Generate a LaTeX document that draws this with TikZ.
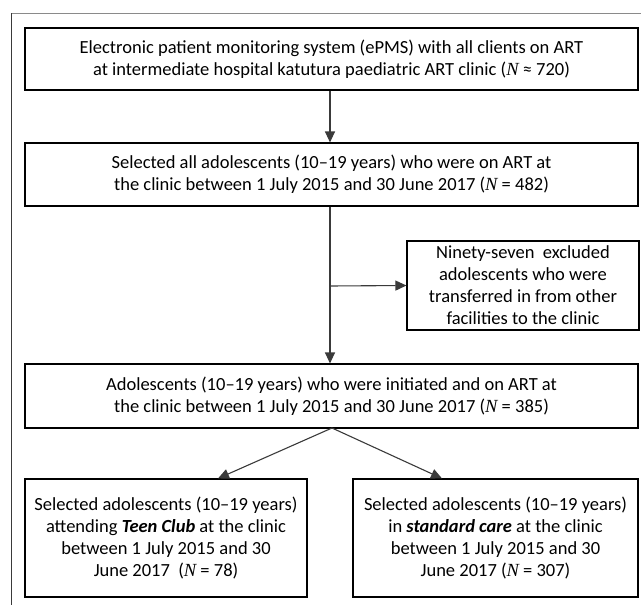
\documentclass[tikz,border=0pt]{standalone}
\usepackage{fontspec}
\setmainfont{Carlito}
\newfontfamily\nfont{Liberation Serif}
\usepackage{tikz}
\usetikzlibrary{arrows.meta, positioning, calc}
\definecolor{framegray}{HTML}{8A8A8A}
\definecolor{linkgray}{HTML}{3A3A3A}
\newcommand{\Nv}{{\nfont\itshape N}}

\begin{document}
\begin{tikzpicture}[x=1pt, y=-1pt,
    flowbox/.style={draw=black, line width=1.1pt, align=center, inner sep=0pt,
      font=\fontsize{18.5}{22}\selectfont},
    link/.style={draw=linkgray, line width=1.1pt, -{Triangle[length=11pt, width=10pt]}}]
    \useasboundingbox (0,0) rectangle (641,605);
    % outer frame, only top and left edges show
    \draw[framegray, line width=1pt] (11,13) -- (641,13);
    \draw[linkgray, line width=1pt] (11,605) -- (11,13);
    % main column of boxes
    \node[flowbox, minimum width=613pt, minimum height=62pt] (ePMS) at (331.5,59)
      {Electronic patient monitoring system (ePMS) with all clients on ART\\
       at intermediate hospital katutura paediatric ART clinic (\Nv\ ≈ 720)};
    \node[flowbox, minimum width=613pt, minimum height=63pt] (allAdol) at (331.5,174.5)
      {Selected all adolescents (10--19 years) who were on ART at\\
       the clinic between 1 July 2015 and 30 June 2017 (\Nv\ = 482)};
    \node[flowbox, minimum width=232pt, minimum height=89pt] (excluded) at (523,285.5)
      {Ninety-seven\ \ excluded\\ adolescents who were\\
       transferred in from other\\ facilities to the clinic};
    \node[flowbox, minimum width=613pt, minimum height=64pt] (initiated) at (331.5,396)
      {Adolescents (10--19 years) who were initiated and on ART at\\
       the clinic between 1 July 2015 and 30 June 2017 (\Nv\ = 385)};
    % the two groups
    \node[flowbox, minimum width=282pt, minimum height=118pt] (teenClub) at (166,538)
      {Selected adolescents (10--19 years)\\
       attending \textbf{\textit{Teen Club}} at the clinic\\
       between 1 July 2015 and 30\\ June 2017\ \ (\Nv\ = 78)};
    \node[flowbox, minimum width=285pt, minimum height=118pt] (stdCare) at (495.5,538)
      {Selected adolescents (10--19 years)\\
       in \textbf{\textit{standard care}} at the clinic\\
       between 1 July 2015 and 30\\ June 2017 (\Nv\ = 307)};
    % connectors
    \coordinate (split) at (330,286);
    \coordinate (fork) at (332,428);
    \draw[link] (ePMS.south -| split) -- (allAdol.north -| split);
    \draw[link] (allAdol.south -| split) -- (initiated.north -| split);
    \draw[link] (split) -- (excluded.west);
    \draw[link] (fork) -- (teenClub.north -| 218,0);
    \draw[link] (fork) -- (stdCare.north -| 442,0);
  \end{tikzpicture}
\end{document}
